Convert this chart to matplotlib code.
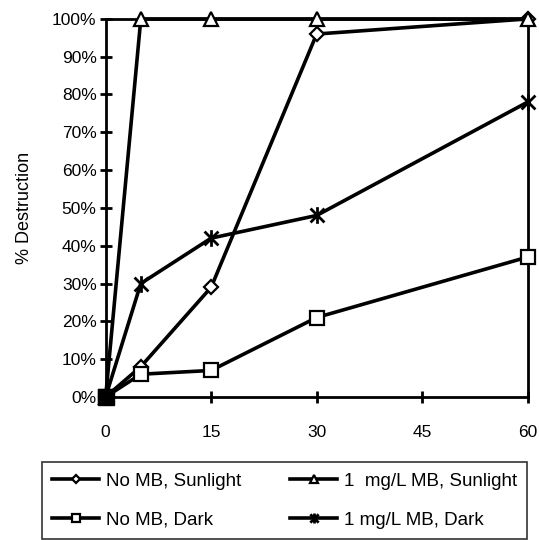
import numpy as np
import matplotlib.pyplot as plt
from matplotlib.ticker import FuncFormatter
from matplotlib.path import Path

plt.rcParams['font.family'] = ['Liberation Sans', 'DejaVu Sans']

# sampling times (min)
time = [0, 5, 15, 30, 60]
no_mb_sun = [0, 8, 29, 96, 100]
mb_sun = [0, 100, 100, 100, 100]
no_mb_dark = [0, 6, 7, 21, 37]
mb_dark = [0, 30, 42, 48, 78]

labels = ['No MB, Sunlight', '1  mg/L MB, Sunlight', 'No MB, Dark', '1 mg/L MB, Dark']
xticks = [0, 15, 30, 45, 60]

# Excel style star: X with a vertical bar
star = Path([(-1, -1), (1, 1), (-1, 1), (1, -1), (0, -1.2), (0, 1.2)],
            [Path.MOVETO, Path.LINETO, Path.MOVETO, Path.LINETO, Path.MOVETO, Path.LINETO])

fig = plt.figure(figsize=(5.39, 5.40), dpi=100)
ax = fig.add_axes([0.196, 0.265, 0.783, 0.700])

lw = 2.6
style = dict(color='black', lw=lw, mfc='white', mec='black', mew=1.6, clip_on=False)
ax.plot(time, no_mb_sun, marker='D', ms=7, label=labels[0], zorder=3, **style)
ax.plot(time, mb_sun, marker='^', ms=10, label=labels[1], zorder=3, **style)
ax.plot(time, no_mb_dark, marker='s', ms=10, label=labels[2], zorder=3, **style)
ax.plot(time, mb_dark, marker=star, ms=12, label=labels[3], zorder=3,
        **{**style, 'mew': 2})
# all series start together at the origin -> solid block there
ax.plot(time[0], no_mb_dark[0], marker='s', ms=11, color='black', clip_on=False, zorder=4)

ax.set_xlim(0, 60)
ax.set_ylim(0, 100)
ax.set_xticks(xticks)
ax.set_yticks(np.arange(0, 101, 10))
ax.yaxis.set_major_formatter(FuncFormatter(lambda v, p: '%d%%' % v))
ax.tick_params(direction='inout', length=9, width=2, labelsize=12.5, pad=2)
ax.tick_params(axis='x', pad=16)
for s in ax.spines.values():
    s.set_linewidth(2)
ax.set_ylabel('% Destruction', fontsize=13, labelpad=14)

h, l = ax.get_legend_handles_labels()
order = [0, 2, 1, 3]
leg = fig.legend([h[i] for i in order], [l[i] for i in order], ncol=2, loc='lower left',
                 bbox_to_anchor=(0.078, 0.002, 0.900, 0.155), mode='expand',
                 fontsize=13.5, frameon=True, fancybox=False, edgecolor='black',
                 handlelength=2.5, handletextpad=0.35, columnspacing=1.0,
                 borderaxespad=0, borderpad=0.55, labelspacing=1.15, markerscale=0.6)
leg.get_frame().set_linewidth(1.2)

fig.savefig('out.png', dpi=100)
